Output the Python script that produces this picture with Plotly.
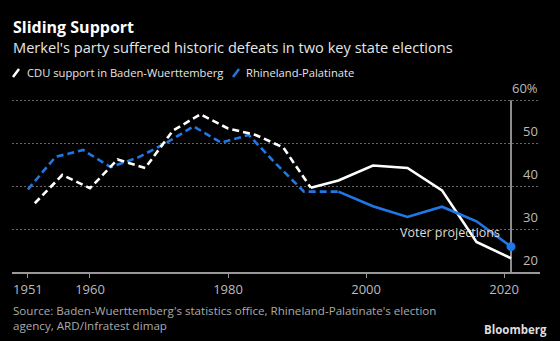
import plotly.graph_objects as go

# Data
bw_years = [1952, 1956, 1960, 1964, 1968, 1972, 1976, 1980, 1984, 1988, 1992, 1996, 2001, 2006, 2011, 2016, 2021]
bw_vals = [36.0, 42.6, 39.5, 46.2, 44.2, 52.9, 56.7, 53.4, 51.9, 49.0, 39.6, 41.3, 44.8, 44.2, 39.0, 27.0, 23.2]
rp_years = [1951, 1955, 1959, 1963, 1967, 1971, 1975, 1979, 1983, 1987, 1991, 1996, 2001, 2006, 2011, 2016, 2021]
rp_vals = [39.2, 46.8, 48.4, 44.4, 46.7, 50.0, 53.9, 50.1, 51.9, 45.1, 38.7, 38.7, 35.3, 32.8, 35.2, 31.8, 25.9]
bw_split = 10   # dashed up to 1992
rp_split = 11   # dashed up to 1996
x_ticks = [1951, 1960, 1980, 2000, 2020]
y_ticks = [30, 40, 50, 60]
y_labels = ["30", "40", "50", "60%"]
proj_year = 2021

WHITE = "#ffffff"
BLUE = "#1f78e6"
FONT = "Open Sans"
DASH = "7px,4px"
LW = 2.6

fig = go.Figure()

# dashed historical segments
fig.add_trace(go.Scatter(x=rp_years[:rp_split + 1], y=rp_vals[:rp_split + 1], mode="lines",
                         line=dict(color=BLUE, width=LW, dash=DASH), hoverinfo="skip"))
fig.add_trace(go.Scatter(x=bw_years[:bw_split + 1], y=bw_vals[:bw_split + 1], mode="lines",
                         line=dict(color=WHITE, width=LW, dash=DASH), hoverinfo="skip"))
# solid recent segments
fig.add_trace(go.Scatter(x=bw_years[bw_split:], y=bw_vals[bw_split:], mode="lines",
                         line=dict(color=WHITE, width=LW), hoverinfo="skip"))
fig.add_trace(go.Scatter(x=rp_years[rp_split:], y=rp_vals[rp_split:], mode="lines",
                         line=dict(color=BLUE, width=LW), hoverinfo="skip"))
# end marker
fig.add_trace(go.Scatter(x=rp_years[-1:], y=rp_vals[-1:], mode="markers",
                         marker=dict(color=BLUE, size=9), hoverinfo="skip"))

# vertical projection line
fig.add_shape(type="line", xref="x", yref="y", x0=proj_year, x1=proj_year, y0=20, y1=60,
              line=dict(color="#bbbbbb", width=1.5), layer="below")

# y tick labels above gridlines
for v, t in zip(y_ticks + [20], y_labels + ["20"]):
    fig.add_annotation(x=1, xref="paper", y=v, yref="y", text=t, showarrow=False,
                       xanchor="right", yanchor="middle", yshift=12,
                       font=dict(family=FONT, size=13, color="#bbbbbb"))

fig.add_annotation(x=proj_year, xref="x", y=29.3, yref="y", text="Voter projections",
                   showarrow=False, xanchor="right", yanchor="middle", xshift=-9,
                   font=dict(family=FONT, size=12.5, color="#dddddd"))

PH = 174.0
PW = 528.0
def py(p):
    return (272 - p) / PH
def px(p):
    return (p - 12) / PW

fig.add_annotation(x=px(11), y=py(27), xref="paper", yref="paper", text="<b>Sliding Support</b>",
                   showarrow=False, xanchor="left", yanchor="middle",
                   font=dict(family=FONT, size=16, color=WHITE))
fig.add_annotation(x=px(11), y=py(47), xref="paper", yref="paper",
                   text="Merkel's party suffered historic defeats in two key state elections",
                   showarrow=False, xanchor="left", yanchor="middle",
                   font=dict(family=FONT, size=14.6, color="#e6e6e6"))
# legend
fig.add_shape(type="line", xref="paper", yref="paper", x0=px(13), x1=px(19), y0=py(77), y1=py(69),
              line=dict(color=WHITE, width=2.5))
fig.add_annotation(x=px(25), y=py(73), xref="paper", yref="paper",
                   text="CDU support in Baden-Wuerttemberg", showarrow=False,
                   xanchor="left", yanchor="middle", font=dict(family=FONT, size=11.2, color="#e6e6e6"))
fig.add_shape(type="line", xref="paper", yref="paper", x0=px(233), x1=px(239), y0=py(77), y1=py(69),
              line=dict(color=BLUE, width=2.5))
fig.add_annotation(x=px(244), y=py(73), xref="paper", yref="paper",
                   text="Rhineland-Palatinate", showarrow=False,
                   xanchor="left", yanchor="middle", font=dict(family=FONT, size=11.2, color="#e6e6e6"))
# source
fig.add_annotation(x=px(11), y=py(318), xref="paper", yref="paper",
                   text="Source: Baden-Wuerttemberg's statistics office, Rhineland-Palatinate's election<br>agency, ARD/Infratest dimap",
                   showarrow=False, xanchor="left", yanchor="middle", align="left",
                   font=dict(family=FONT, size=11.6, color="#aaaaaa"))
fig.add_annotation(x=px(549), y=py(329), xref="paper", yref="paper", text="<b>Bloomberg</b>",
                   showarrow=False, xanchor="right", yanchor="middle",
                   font=dict(family=FONT, size=11.5, color="#dddddd"))

fig.update_layout(
    width=560, height=341,
    margin=dict(l=12, r=20, t=98, b=69),
    paper_bgcolor="#000000", plot_bgcolor="#000000",
    showlegend=False,
    xaxis=dict(range=[1948.7, 2025.2], tickvals=x_ticks, ticks="outside", ticklen=4,
               tickcolor="#999999", showgrid=False, zeroline=False,
               showline=True, linecolor="#999999", linewidth=2,
               tickfont=dict(family=FONT, size=13, color="#bbbbbb"), fixedrange=True),
    yaxis=dict(range=[20, 60.5], tickvals=y_ticks, showticklabels=False, showgrid=True,
               gridcolor="#666666", griddash="2px,2px", gridwidth=1, zeroline=False, fixedrange=True),
)

fig.write_html("out.html")
